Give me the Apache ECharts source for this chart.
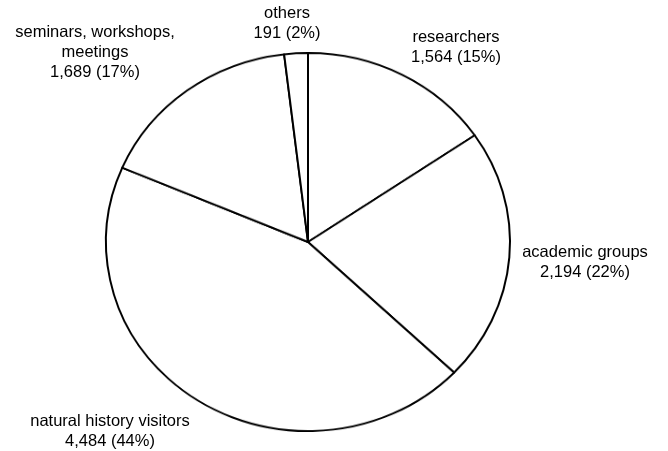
<!DOCTYPE html>
<html><head><meta charset="utf-8">
<script src="https://cdn.jsdelivr.net/npm/echarts@6/dist/echarts.min.js"></script>
<style>
html,body{margin:0;padding:0;background:#fff;}
#wrap{position:relative;width:668px;height:451px;overflow:hidden;}
#pie,#labels{position:absolute;left:0;top:0;width:668px;height:451px;}
#pie{transform:scaleY(0.936);transform-origin:308px 242px;}
</style></head><body>
<div id="wrap"><div id="pie"></div><div id="labels"></div></div>
<script>
// Data
const categories = ["researchers", "academic groups", "natural history visitors", "seminars, workshops, meetings", "others"];
const labelNames = ["researchers", "academic groups", "natural history visitors", "seminars, workshops,\nmeetings", "others"];
const values = [1564, 2194, 4484, 1689, 191];

// Label placement (style config)
const labelCenters = [[456, 47], [585, 262], [110, 431], [95, 52], [287, 23]];

const seriesData = categories.map((c, i) => ({ name: c, value: values[i] }));
const fmt = v => v.toLocaleString('en-US');

const base = {
  type: 'pie',
  center: [308, 242],
  radius: 202,
  startAngle: 90,
  clockwise: true,
  percentPrecision: 0,
  avoidLabelOverlap: false,
  animation: false,
  silent: true,
  emphasis: { disabled: true },
  data: seriesData
};

const pieChart = echarts.init(document.getElementById('pie'), null, { renderer: 'canvas' });
pieChart.setOption({
  animation: false,
  series: [Object.assign({}, base, {
    itemStyle: { color: '#ffffff', borderColor: '#000000', borderWidth: 2 },
    label: { show: false },
    labelLine: { show: false }
  })]
});

const labelChart = echarts.init(document.getElementById('labels'), null, { renderer: 'canvas' });
labelChart.setOption({
  animation: false,
  series: [Object.assign({}, base, {
    itemStyle: { color: 'rgba(0,0,0,0)', borderWidth: 0 },
    label: {
      show: true,
      position: 'outside',
      fontFamily: 'Liberation Sans, Arial, sans-serif',
      fontSize: 16.5,
      lineHeight: 20,
      color: '#000',
      align: 'center',
      formatter: p => labelNames[p.dataIndex] + '\n' + fmt(p.value) + ' (' + p.percent + '%)'
    },
    labelLine: { show: false },
    labelLayout: p => ({
      x: labelCenters[p.dataIndex][0],
      y: labelCenters[p.dataIndex][1],
      align: 'center',
      verticalAlign: 'middle'
    })
  })]
});
</script>
</body></html>
